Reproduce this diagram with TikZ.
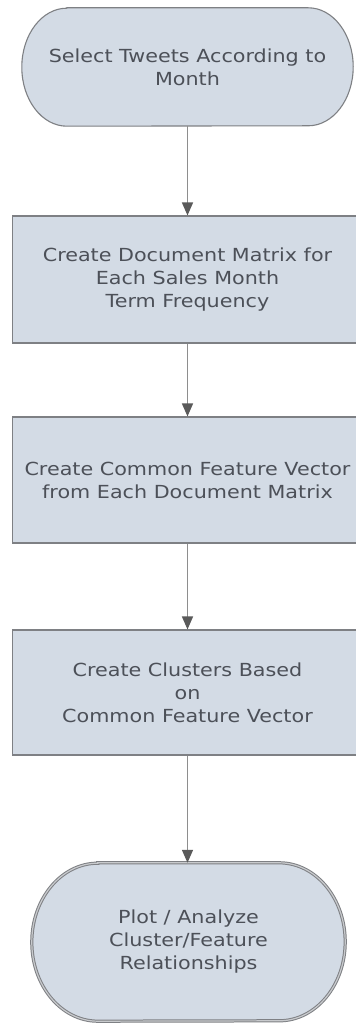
\documentclass[tikz,border=0pt]{standalone}
\usepackage{fontspec}
\newfontfamily\flowfont[FakeStretch=1.15]{DejaVu Sans}
\usetikzlibrary{arrows.meta,backgrounds}
\definecolor{boxfill}{HTML}{D3DBE5}
\definecolor{boxline}{HTML}{7E8084}
\definecolor{txt}{HTML}{4C5058}
\definecolor{arrowline}{HTML}{8E8E8E}
\definecolor{arrowtip}{HTML}{5A5A5A}
\definecolor{dblfill}{HTML}{C8CACD}

\begin{document}
\begin{tikzpicture}[x=1pt,y=1pt,
  labeltext/.style={font=\flowfont\fontsize{18}{23}\selectfont, text=txt,
    align=center, inner sep=0pt},
  process/.style={labeltext, draw=boxline, fill=boxfill, line width=1.1pt,
    minimum width=350pt},
  termtext/.style={labeltext},
  termline/.style={draw=boxline, fill=boxfill, line width=1.1pt},
  termdouble/.style={draw=boxline, fill=boxfill, line width=1pt,
    double=dblfill, double distance=1.2pt},
  flow/.style={draw=arrowline, line width=1.4pt,
    -{Triangle[width=11pt,length=13pt,color=arrowtip]}},
]
\useasboundingbox (0,0) rectangle (356,1023);
\clip (0,0) rectangle (356,1023);

% start terminal
\node[termtext, minimum width=331pt, minimum height=118pt] (start) at (187.5,956)
  {Select Tweets According to\\Month};

% process steps
\node[process, minimum height=127pt] (matrix) at (187.5,743.5)
  {Create Document Matrix for\\Each Sales Month\\Term Frequency};
\node[process, minimum height=126pt] (vector) at (187.5,543)
  {Create Common Feature Vector\\from Each Document Matrix};
\node[process, minimum height=125pt] (cluster) at (187.5,330.5)
  {Create Clusters Based\\on\\Common Feature Vector};

% end terminal
\node[termtext, minimum width=313pt, minimum height=158pt] (plot) at (188.5,81)
  {Plot / Analyze\\Cluster/Feature\\Relationships};

% page background and terminal outlines with elliptical ends
\begin{scope}[on background layer]
  \fill[white] (0,0) rectangle (356,1023);
  \path[termline] ([xshift=45pt]start.north west) -- ([xshift=-45pt]start.north east)
    arc[start angle=90, end angle=-90, x radius=45pt, y radius=59pt]
    -- ([xshift=45pt]start.south west)
    arc[start angle=270, end angle=90, x radius=45pt, y radius=59pt] -- cycle;
  \path[termdouble] ([xshift=66pt]plot.north west) -- ([xshift=-66pt]plot.north east)
    arc[start angle=90, end angle=-90, x radius=66pt, y radius=79pt]
    -- ([xshift=66pt]plot.south west)
    arc[start angle=270, end angle=90, x radius=66pt, y radius=79pt] -- cycle;
\end{scope}

% connectors, kept vertical
\draw[flow] (start.south) -- (start.south |- matrix.north);
\draw[flow] (matrix.south) -- (matrix.south |- vector.north);
\draw[flow] (vector.south) -- (vector.south |- cluster.north);
\draw[flow] (cluster.south) -- (cluster.south |- plot.north);
\end{tikzpicture}
\end{document}
